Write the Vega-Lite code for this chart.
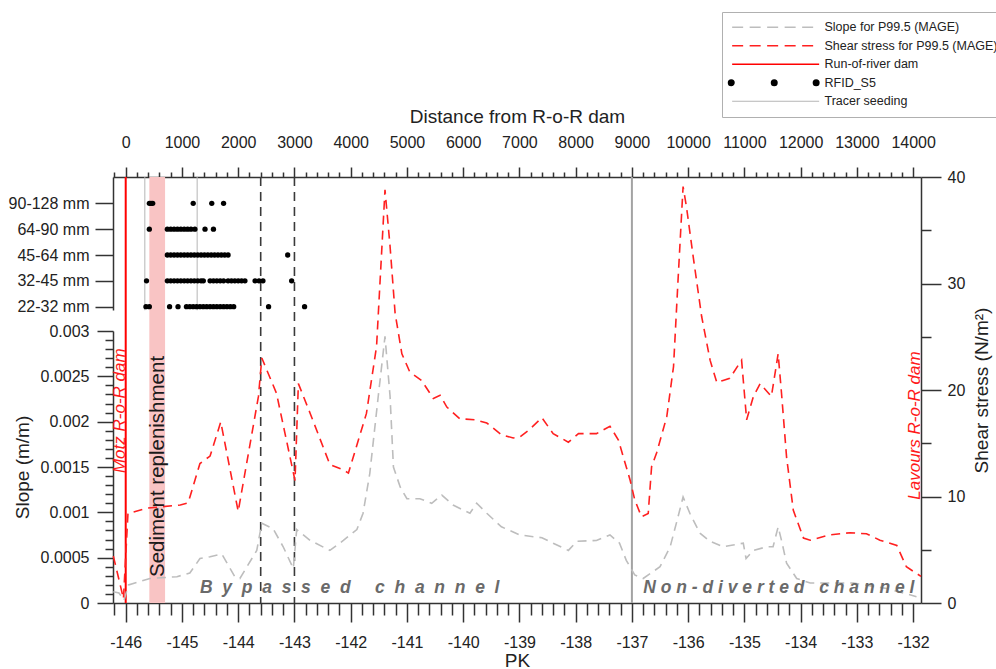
{
  "$schema": "https://vega.github.io/schema/vega-lite/v6.json",
  "width": 808,
  "height": 426,
  "autosize": {"type": "none"},
  "padding": {"left": 113, "top": 177, "right": 75, "bottom": 66},
  "background": "white",
  "config": {
    "font": "Liberation Sans",
    "view": {"stroke": null},
    "axis": {
      "grid": false,
      "domainColor": "#333333",
      "tickColor": "#333333",
      "domainWidth": 1.5,
      "tickWidth": 1.5,
      "labelColor": "#222222",
      "titleColor": "#222222",
      "labelFont": "Liberation Sans",
      "titleFont": "Liberation Sans",
      "labelFontSize": 16,
      "titleFontSize": 19,
      "titleFontWeight": "normal",
      "labelFlush": false,
      "labelOverlap": false
    }
  },
  "datasets": {
    "slope": [
      {"pk": -146.22, "slope": 0.000125}, {"pk": -146.12, "slope": 0.00011}, {"pk": -146.03, "slope": 0.00003}, {"pk": -145.95, "slope": 0.0002},
      {"pk": -145.57, "slope": 0.00027}, {"pk": -145.09, "slope": 0.00029}, {"pk": -144.86, "slope": 0.00033}, {"pk": -144.68, "slope": 0.00049},
      {"pk": -144.5, "slope": 0.00051}, {"pk": -144.29, "slope": 0.00054}, {"pk": -144.06, "slope": 0.00029}, {"pk": -143.97, "slope": 0.00027},
      {"pk": -143.67, "slope": 0.00058}, {"pk": -143.58, "slope": 0.00088}, {"pk": -143.38, "slope": 0.00082}, {"pk": -143.2, "slope": 0.00062},
      {"pk": -143.02, "slope": 0.00038}, {"pk": -142.96, "slope": 0.00081}, {"pk": -142.72, "slope": 0.00069}, {"pk": -142.37, "slope": 0.00058},
      {"pk": -142.13, "slope": 0.00069}, {"pk": -141.89, "slope": 0.00081}, {"pk": -141.78, "slope": 0.00099}, {"pk": -141.66, "slope": 0.00143},
      {"pk": -141.51, "slope": 0.00228}, {"pk": -141.39, "slope": 0.00294}, {"pk": -141.3, "slope": 0.00228}, {"pk": -141.24, "slope": 0.0015},
      {"pk": -141.12, "slope": 0.00128}, {"pk": -141.0, "slope": 0.00115}, {"pk": -140.77, "slope": 0.00115}, {"pk": -140.56, "slope": 0.0011},
      {"pk": -140.38, "slope": 0.00119}, {"pk": -140.18, "slope": 0.00108}, {"pk": -139.88, "slope": 0.00099}, {"pk": -139.76, "slope": 0.0011},
      {"pk": -139.58, "slope": 0.00099}, {"pk": -139.32, "slope": 0.00084}, {"pk": -138.99, "slope": 0.00075}, {"pk": -138.6, "slope": 0.00072},
      {"pk": -138.4, "slope": 0.00066}, {"pk": -138.13, "slope": 0.00058}, {"pk": -137.98, "slope": 0.00068}, {"pk": -137.63, "slope": 0.00069},
      {"pk": -137.39, "slope": 0.00075}, {"pk": -137.22, "slope": 0.00066}, {"pk": -137.1, "slope": 0.00047}, {"pk": -136.95, "slope": 0.00031},
      {"pk": -136.8, "slope": 0.00027}, {"pk": -136.5, "slope": 0.0004}, {"pk": -136.32, "slope": 0.00062}, {"pk": -136.18, "slope": 0.00095},
      {"pk": -136.09, "slope": 0.00117}, {"pk": -135.97, "slope": 0.00099}, {"pk": -135.79, "slope": 0.00077}, {"pk": -135.61, "slope": 0.00068},
      {"pk": -135.38, "slope": 0.00062}, {"pk": -135.2, "slope": 0.00064}, {"pk": -135.02, "slope": 0.00066}, {"pk": -134.97, "slope": 0.00049},
      {"pk": -134.84, "slope": 0.00058}, {"pk": -134.6, "slope": 0.00062}, {"pk": -134.49, "slope": 0.00062}, {"pk": -134.4, "slope": 0.00084},
      {"pk": -134.34, "slope": 0.00069}, {"pk": -134.25, "slope": 0.00044}, {"pk": -134.07, "slope": 0.00027}, {"pk": -133.83, "slope": 0.00022},
      {"pk": -133.06, "slope": 0.00022}, {"pk": -132.47, "slope": 0.00016}, {"pk": -131.94, "slope": 0.00007}
    ],
    "shear": [
      {"pk": -146.22, "shear": 4.4}, {"pk": -146.12, "shear": 2.2}, {"pk": -146.04, "shear": 0.4}, {"pk": -145.96, "shear": 8.4},
      {"pk": -145.63, "shear": 8.9}, {"pk": -145.03, "shear": 9.2}, {"pk": -144.89, "shear": 9.4}, {"pk": -144.68, "shear": 13.1},
      {"pk": -144.5, "shear": 13.8}, {"pk": -144.31, "shear": 17.0}, {"pk": -144.0, "shear": 8.6}, {"pk": -143.64, "shear": 19.4},
      {"pk": -143.58, "shear": 23.0}, {"pk": -143.32, "shear": 19.7}, {"pk": -142.99, "shear": 11.5}, {"pk": -142.93, "shear": 20.6},
      {"pk": -142.72, "shear": 17.8}, {"pk": -142.37, "shear": 13.0}, {"pk": -142.13, "shear": 12.5}, {"pk": -142.04, "shear": 12.2},
      {"pk": -141.72, "shear": 17.8}, {"pk": -141.54, "shear": 24.1}, {"pk": -141.39, "shear": 38.8}, {"pk": -141.3, "shear": 33.5},
      {"pk": -141.21, "shear": 27.2}, {"pk": -141.09, "shear": 23.4}, {"pk": -140.95, "shear": 21.7}, {"pk": -140.74, "shear": 20.9},
      {"pk": -140.53, "shear": 19.2}, {"pk": -140.41, "shear": 19.5}, {"pk": -140.29, "shear": 18.4}, {"pk": -140.06, "shear": 17.3},
      {"pk": -139.79, "shear": 17.2}, {"pk": -139.58, "shear": 16.9}, {"pk": -139.32, "shear": 15.8}, {"pk": -139.11, "shear": 15.5},
      {"pk": -138.99, "shear": 15.6}, {"pk": -138.84, "shear": 16.2}, {"pk": -138.6, "shear": 17.4}, {"pk": -138.4, "shear": 15.9},
      {"pk": -138.13, "shear": 15.1}, {"pk": -137.95, "shear": 15.9}, {"pk": -137.63, "shear": 15.9}, {"pk": -137.39, "shear": 16.6},
      {"pk": -137.24, "shear": 15.3}, {"pk": -137.03, "shear": 11.5}, {"pk": -136.95, "shear": 9.7}, {"pk": -136.83, "shear": 8.1},
      {"pk": -136.71, "shear": 8.4}, {"pk": -136.65, "shear": 12.8}, {"pk": -136.56, "shear": 14.1}, {"pk": -136.38, "shear": 17.5},
      {"pk": -136.26, "shear": 22.2}, {"pk": -136.18, "shear": 30.3}, {"pk": -136.09, "shear": 39.1}, {"pk": -136.03, "shear": 37.2},
      {"pk": -135.91, "shear": 32.5}, {"pk": -135.76, "shear": 26.9}, {"pk": -135.61, "shear": 22.8}, {"pk": -135.49, "shear": 20.7},
      {"pk": -135.38, "shear": 20.9}, {"pk": -135.26, "shear": 21.1}, {"pk": -135.05, "shear": 22.8}, {"pk": -134.96, "shear": 17.2},
      {"pk": -134.84, "shear": 19.4}, {"pk": -134.72, "shear": 20.6}, {"pk": -134.52, "shear": 19.4}, {"pk": -134.4, "shear": 23.4},
      {"pk": -134.34, "shear": 19.7}, {"pk": -134.25, "shear": 13.7}, {"pk": -134.13, "shear": 8.7}, {"pk": -133.95, "shear": 6.1},
      {"pk": -133.83, "shear": 5.9}, {"pk": -133.48, "shear": 6.4}, {"pk": -133.12, "shear": 6.6}, {"pk": -132.83, "shear": 6.5},
      {"pk": -132.59, "shear": 5.9}, {"pk": -132.29, "shear": 5.4}, {"pk": -132.12, "shear": 3.4}, {"pk": -131.86, "shear": 2.5}
    ],
    "rfid": [
      {"pk": -145.58, "cls": "90-128 mm"}, {"pk": -145.55, "cls": "90-128 mm"}, {"pk": -145.52, "cls": "90-128 mm"}, {"pk": -144.8, "cls": "90-128 mm"}, {"pk": -144.47, "cls": "90-128 mm"}, {"pk": -144.26, "cls": "90-128 mm"},
      {"pk": -145.58, "cls": "64-90 mm"}, {"pk": -145.26, "cls": "64-90 mm"}, {"pk": -145.2, "cls": "64-90 mm"}, {"pk": -145.14, "cls": "64-90 mm"}, {"pk": -145.08, "cls": "64-90 mm"}, {"pk": -145.02, "cls": "64-90 mm"}, {"pk": -144.96, "cls": "64-90 mm"}, {"pk": -144.9, "cls": "64-90 mm"}, {"pk": -144.84, "cls": "64-90 mm"}, {"pk": -144.77, "cls": "64-90 mm"}, {"pk": -144.59, "cls": "64-90 mm"}, {"pk": -144.44, "cls": "64-90 mm"},
      {"pk": -145.26, "cls": "45-64 mm"}, {"pk": -145.2, "cls": "45-64 mm"}, {"pk": -145.14, "cls": "45-64 mm"}, {"pk": -145.08, "cls": "45-64 mm"}, {"pk": -145.02, "cls": "45-64 mm"}, {"pk": -144.96, "cls": "45-64 mm"}, {"pk": -144.9, "cls": "45-64 mm"}, {"pk": -144.84, "cls": "45-64 mm"}, {"pk": -144.78, "cls": "45-64 mm"}, {"pk": -144.72, "cls": "45-64 mm"}, {"pk": -144.66, "cls": "45-64 mm"}, {"pk": -144.6, "cls": "45-64 mm"}, {"pk": -144.54, "cls": "45-64 mm"}, {"pk": -144.48, "cls": "45-64 mm"}, {"pk": -144.42, "cls": "45-64 mm"}, {"pk": -144.36, "cls": "45-64 mm"}, {"pk": -144.3, "cls": "45-64 mm"}, {"pk": -144.24, "cls": "45-64 mm"}, {"pk": -144.18, "cls": "45-64 mm"}, {"pk": -143.12, "cls": "45-64 mm"},
      {"pk": -145.63, "cls": "32-45 mm"}, {"pk": -145.26, "cls": "32-45 mm"}, {"pk": -145.2, "cls": "32-45 mm"}, {"pk": -145.14, "cls": "32-45 mm"}, {"pk": -145.08, "cls": "32-45 mm"}, {"pk": -145.02, "cls": "32-45 mm"}, {"pk": -144.96, "cls": "32-45 mm"}, {"pk": -144.9, "cls": "32-45 mm"}, {"pk": -144.84, "cls": "32-45 mm"}, {"pk": -144.78, "cls": "32-45 mm"}, {"pk": -144.72, "cls": "32-45 mm"}, {"pk": -144.66, "cls": "32-45 mm"}, {"pk": -144.62, "cls": "32-45 mm"},
      {"pk": -144.5, "cls": "32-45 mm"}, {"pk": -144.44, "cls": "32-45 mm"}, {"pk": -144.38, "cls": "32-45 mm"}, {"pk": -144.32, "cls": "32-45 mm"}, {"pk": -144.26, "cls": "32-45 mm"}, {"pk": -144.18, "cls": "32-45 mm"}, {"pk": -144.12, "cls": "32-45 mm"}, {"pk": -144.06, "cls": "32-45 mm"}, {"pk": -144.0, "cls": "32-45 mm"}, {"pk": -143.94, "cls": "32-45 mm"}, {"pk": -143.88, "cls": "32-45 mm"}, {"pk": -143.7, "cls": "32-45 mm"}, {"pk": -143.63, "cls": "32-45 mm"}, {"pk": -143.56, "cls": "32-45 mm"}, {"pk": -143.05, "cls": "32-45 mm"},
      {"pk": -145.64, "cls": "22-32 mm"}, {"pk": -145.58, "cls": "22-32 mm"}, {"pk": -145.22, "cls": "22-32 mm"}, {"pk": -145.07, "cls": "22-32 mm"}, {"pk": -144.92, "cls": "22-32 mm"}, {"pk": -144.86, "cls": "22-32 mm"}, {"pk": -144.8, "cls": "22-32 mm"}, {"pk": -144.74, "cls": "22-32 mm"}, {"pk": -144.68, "cls": "22-32 mm"}, {"pk": -144.62, "cls": "22-32 mm"}, {"pk": -144.56, "cls": "22-32 mm"}, {"pk": -144.5, "cls": "22-32 mm"}, {"pk": -144.44, "cls": "22-32 mm"}, {"pk": -144.38, "cls": "22-32 mm"}, {"pk": -144.32, "cls": "22-32 mm"}, {"pk": -144.26, "cls": "22-32 mm"}, {"pk": -144.2, "cls": "22-32 mm"}, {"pk": -144.14, "cls": "22-32 mm"}, {"pk": -144.08, "cls": "22-32 mm"}, {"pk": -143.46, "cls": "22-32 mm"}, {"pk": -142.82, "cls": "22-32 mm"}
    ]
  },
  "layer": [
    {
      "data": {"values": [{"pk": -145.58, "pk2": -145.3}]},
      "mark": {"type": "rect", "color": "#f9c4c4"},
      "encoding": {
        "x": {"field": "pk", "type": "quantitative", "scale": {"domain": [-146.226, -131.86], "nice": false, "zero": false},
          "axis": {"orient": "bottom", "values": [-146, -145, -144, -143, -142, -141, -140, -139, -138, -137, -136, -135, -134, -133, -132], "labelExpr": "'' + datum.value", "tickSize": 19, "labelPadding": 12, "title": "PK", "titlePadding": 1}},
        "x2": {"field": "pk2"}
      }
    },
    {
      "data": {"values": [{"pk": -145.66}, {"pk": -144.73}]},
      "mark": {"type": "rule", "strokeWidth": 1},
      "encoding": {
        "x": {"field": "pk", "type": "quantitative", "scale": {"domain": [-146.226, -131.86], "nice": false, "zero": false},
          "axis": {"orient": "bottom", "values": [-146.2, -145.8, -145.6, -145.4, -145.2, -144.8, -144.6, -144.4, -144.2, -143.8, -143.6, -143.4, -143.2, -142.8, -142.6, -142.4, -142.2, -141.8, -141.6, -141.4, -141.2, -140.8, -140.6, -140.4, -140.2, -139.8, -139.6, -139.4, -139.2, -138.8, -138.6, -138.4, -138.2, -137.8, -137.6, -137.4, -137.2, -136.8, -136.6, -136.4, -136.2, -135.8, -135.6, -135.4, -135.2, -134.8, -134.6, -134.4, -134.2, -133.8, -133.6, -133.4, -133.2, -132.8, -132.6, -132.4, -132.2], "tickSize": 12, "labels": false, "domain": false, "title": null}},
        "y": {"datum": 0.0047, "type": "quantitative", "scale": {"domain": [0, 0.0047], "nice": false, "zero": false}, "axis": null},
        "y2": {"datum": 0.00323},
        "color": {"datum": "Tracer seeding", "type": "nominal",
          "scale": {"domain": ["Slope for P99.5 (MAGE)", "Shear stress for P99.5 (MAGE)", "Run-of-river dam", "RFID_S5", "Tracer seeding"], "range": ["#bdbdbd", "#ff2020", "#ff0000", "#000000", "#b5b5b5"]},
          "legend": {"orient": "none", "legendX": 609, "legendY": -165, "direction": "vertical", "title": null, "padding": 9, "strokeColor": "#b0b0b0", "fillColor": "#ffffff", "symbolSize": 36, "symbolStrokeWidth": 1.6, "symbolType": "M -1.7 0 L 27.3 0", "labelFontSize": 12.5, "labelFont": "Liberation Sans", "labelColor": "#222222", "labelOffset": 81, "labelLimit": 400, "rowPadding": 5.5,
            "encode": {"symbols": {"update": {
              "shape": {"signal": "datum.value === 'RFID_S5' ? 'M -1.1 0 A 0.9 0.9 0 1 0 -2.9 0 A 0.9 0.9 0 1 0 -1.1 0 Z M 13.23 0 A 0.9 0.9 0 1 0 11.43 0 A 0.9 0.9 0 1 0 13.23 0 Z M 27.2 0 A 0.9 0.9 0 1 0 25.4 0 A 0.9 0.9 0 1 0 27.2 0 Z' : 'M -1.7 0 L 27.3 0'"},
              "strokeDash": {"signal": "(datum.value === 'Slope for P99.5 (MAGE)' || datum.value === 'Shear stress for P99.5 (MAGE)') ? [11, 6.5] : [300, 0]"},
              "fill": {"signal": "datum.value === 'RFID_S5' ? '#000000' : 'transparent'"},
              "stroke": {"scale": "color", "field": "value"},
              "strokeWidth": {"signal": "datum.value === 'Tracer seeding' ? 1 : 1.6"},
              "opacity": {"value": 1},
              "fillOpacity": {"value": 1},
              "strokeOpacity": {"value": 1}
            }}}}
        }
      }
    },
    {
      "data": {"values": [{"pk": -137.0}]},
      "mark": {"type": "rule", "color": "#a3a3a3", "strokeWidth": 2},
      "encoding": {
        "x": {"field": "pk", "type": "quantitative", "scale": {"domain": [-146.226, -131.86], "nice": false, "zero": false},
          "axis": {"orient": "top", "values": [-146, -145, -144, -143, -142, -141, -140, -139, -138, -137, -136, -135, -134, -133, -132], "labelExpr": "format((datum.value + 146) * 1000, 'd')", "tickSize": 10, "labelPadding": 17, "title": "Distance from R-o-R dam", "titlePadding": 8}}
      }
    },
    {
      "data": {"values": [{"pk": -143.6}, {"pk": -143.0}]},
      "mark": {"type": "rule", "color": "#3a3a3a", "strokeWidth": 1.6, "strokeDash": [9, 6]},
      "encoding": {
        "x": {"field": "pk", "type": "quantitative", "scale": {"domain": [-146.226, -131.86], "nice": false, "zero": false},
          "axis": {"orient": "top", "values": [-146.2, -145.8, -145.6, -145.4, -145.2, -144.8, -144.6, -144.4, -144.2, -143.8, -143.6, -143.4, -143.2, -142.8, -142.6, -142.4, -142.2, -141.8, -141.6, -141.4, -141.2, -140.8, -140.6, -140.4, -140.2, -139.8, -139.6, -139.4, -139.2, -138.8, -138.6, -138.4, -138.2, -137.8, -137.6, -137.4, -137.2, -136.8, -136.6, -136.4, -136.2, -135.8, -135.6, -135.4, -135.2, -134.8, -134.6, -134.4, -134.2, -133.8, -133.6, -133.4, -133.2, -132.8, -132.6, -132.4, -132.2], "tickSize": 5, "labels": false, "domain": false, "title": null}}
      }
    },
    {
      "data": {"values": [{"pk": -146.0}]},
      "mark": {"type": "rule", "strokeWidth": 2},
      "encoding": {
        "x": {"field": "pk", "type": "quantitative", "scale": {"domain": [-146.226, -131.86], "nice": false, "zero": false}, "axis": null},
        "color": {"datum": "Run-of-river dam", "type": "nominal",
          "scale": {"domain": ["Slope for P99.5 (MAGE)", "Shear stress for P99.5 (MAGE)", "Run-of-river dam", "RFID_S5", "Tracer seeding"], "range": ["#bdbdbd", "#ff2020", "#ff0000", "#000000", "#b5b5b5"]}}
      }
    },
    {
      "data": {"name": "slope"},
      "mark": {"type": "line", "strokeWidth": 1.6, "strokeDash": [9, 6]},
      "encoding": {
        "x": {"field": "pk", "type": "quantitative", "scale": {"domain": [-146.226, -131.86], "nice": false, "zero": false}, "axis": null},
        "y": {"field": "slope", "type": "quantitative", "scale": {"domain": [0, 0.003], "range": [426, 154], "nice": false, "zero": false},
          "axis": {"orient": "left", "values": [0, 0.0005, 0.001, 0.0015, 0.002, 0.0025, 0.003], "labelExpr": "'' + datum.value", "tickSize": 16, "labelPadding": 8, "title": "Slope (m/m)", "titlePadding": 8}},
        "color": {"datum": "Slope for P99.5 (MAGE)", "type": "nominal",
          "scale": {"domain": ["Slope for P99.5 (MAGE)", "Shear stress for P99.5 (MAGE)", "Run-of-river dam", "RFID_S5", "Tracer seeding"], "range": ["#bdbdbd", "#ff2020", "#ff0000", "#000000", "#b5b5b5"]}}
      }
    },
    {
      "data": {"name": "shear"},
      "mark": {"type": "line", "strokeWidth": 1.6, "strokeDash": [9, 6]},
      "encoding": {
        "x": {"field": "pk", "type": "quantitative", "scale": {"domain": [-146.226, -131.86], "nice": false, "zero": false}, "axis": null},
        "y": {"field": "shear", "type": "quantitative", "scale": {"domain": [0, 40], "nice": false, "zero": false},
          "axis": {"orient": "right", "values": [0, 10, 20, 30, 40], "tickSize": 20, "labelPadding": 6, "title": "Shear stress (N/m²)", "titleAngle": 270, "titleBaseline": "top", "titlePadding": 8}},
        "color": {"datum": "Shear stress for P99.5 (MAGE)", "type": "nominal",
          "scale": {"domain": ["Slope for P99.5 (MAGE)", "Shear stress for P99.5 (MAGE)", "Run-of-river dam", "RFID_S5", "Tracer seeding"], "range": ["#bdbdbd", "#ff2020", "#ff0000", "#000000", "#b5b5b5"]}}
      }
    },
    {
      "data": {"name": "rfid"},
      "mark": {"type": "point", "filled": true, "size": 28, "opacity": 1},
      "encoding": {
        "x": {"field": "pk", "type": "quantitative", "scale": {"domain": [-146.226, -131.86], "nice": false, "zero": false}, "axis": null},
        "y": {"field": "cls", "type": "ordinal",
          "scale": {"type": "point", "domain": ["90-128 mm", "64-90 mm", "45-64 mm", "32-45 mm", "22-32 mm"], "range": [0, 133], "padding": 0.5725, "align": 0.889},
          "axis": {"orient": "left", "title": null, "tickSize": 18, "labelPadding": 6, "labelAngle": 0}},
        "color": {"datum": "RFID_S5", "type": "nominal",
          "scale": {"domain": ["Slope for P99.5 (MAGE)", "Shear stress for P99.5 (MAGE)", "Run-of-river dam", "RFID_S5", "Tracer seeding"], "range": ["#bdbdbd", "#ff2020", "#ff0000", "#000000", "#b5b5b5"]}}
      }
    },
    {
      "data": {"values": [{"label": "Motz R-o-R dam", "pk": -146.02, "shear": 12.2}, {"label": "Lavours R-o-R dam", "pk": -131.87, "shear": 9.7}]},
      "mark": {"type": "text", "angle": 270, "align": "left", "baseline": "alphabetic", "fontSize": 17, "fontStyle": "italic", "color": "#ff1a1a"},
      "encoding": {
        "x": {"field": "pk", "type": "quantitative", "scale": {"domain": [-146.226, -131.86], "nice": false, "zero": false}, "axis": null},
        "y": {"field": "shear", "type": "quantitative", "scale": {"domain": [0, 40], "nice": false, "zero": false},
          "axis": {"orient": "right", "values": [5, 15, 25, 35], "tickSize": 10, "labels": false, "domain": false, "title": null}},
        "text": {"field": "label"}
      }
    },
    {
      "data": {"values": [{"label": "Sediment replenishment", "pk": -145.43, "slope": 0.000287}]},
      "mark": {"type": "text", "angle": 270, "align": "left", "baseline": "middle", "fontSize": 20.5, "color": "#1a1a1a"},
      "encoding": {
        "x": {"field": "pk", "type": "quantitative", "scale": {"domain": [-146.226, -131.86], "nice": false, "zero": false}, "axis": null},
        "y": {"field": "slope", "type": "quantitative", "scale": {"domain": [0, 0.003], "range": [426, 154], "nice": false, "zero": false},
          "axis": {"orient": "left", "values": [0.0001, 0.0002, 0.0003, 0.0004, 0.0006, 0.0007, 0.0008, 0.0009, 0.0011, 0.0012, 0.0013, 0.0014, 0.0016, 0.0017, 0.0018, 0.0019, 0.0021, 0.0022, 0.0023, 0.0024, 0.0026, 0.0027, 0.0028, 0.0029], "tickSize": 8, "labels": false, "domain": false, "title": null}},
        "text": {"field": "label"}
      }
    },
    {
      "data": {"values": [
        {"label": "B\u00a0\u00a0y\u00a0\u00a0p\u00a0\u00a0a\u00a0\u00a0s\u00a0\u00a0s\u00a0\u00a0e\u00a0\u00a0d\u00a0\u00a0\u00a0\u00a0\u00a0c\u00a0\u00a0h\u00a0\u00a0a\u00a0\u00a0n\u00a0\u00a0n\u00a0\u00a0e\u00a0\u00a0l", "pk": -144.68, "slope": 0.00011},
        {"label": "N\u00a0o\u00a0n\u00a0-\u00a0d\u00a0i\u00a0v\u00a0e\u00a0r\u00a0t\u00a0e\u00a0d\u00a0\u00a0\u00a0c\u00a0h\u00a0a\u00a0n\u00a0n\u00a0e\u00a0l", "pk": -136.8, "slope": 0.00011}
      ]},
      "mark": {"type": "text", "align": "left", "baseline": "alphabetic", "fontSize": 17.5, "fontStyle": "italic", "fontWeight": "bold", "color": "#6a6a6a"},
      "encoding": {
        "x": {"field": "pk", "type": "quantitative", "scale": {"domain": [-146.226, -131.86], "nice": false, "zero": false}, "axis": null},
        "y": {"field": "slope", "type": "quantitative", "scale": {"domain": [0, 0.003], "range": [426, 154], "nice": false, "zero": false}, "axis": null},
        "text": {"field": "label"}
      }
    }
  ],
  "resolve": {
    "scale": {"y": "independent"},
    "axis": {"x": "independent", "y": "independent"}
  }
}
